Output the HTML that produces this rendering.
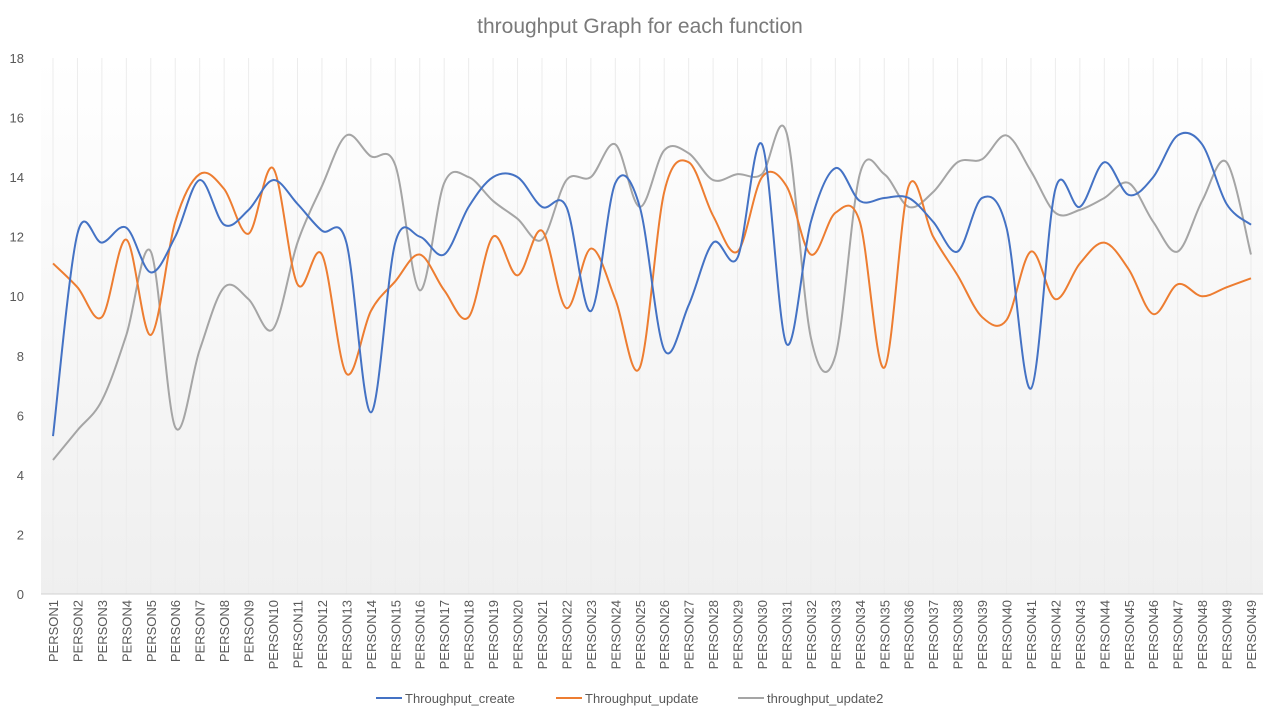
<!DOCTYPE html>
<html><head><meta charset="utf-8"><style>
body{margin:0;background:#fff;font-family:"Liberation Sans",sans-serif}
svg text{font-family:"Liberation Sans",sans-serif}
</style></head><body>
<svg id="c" width="1280" height="720">
<defs><linearGradient id="bg" x1="0" y1="0" x2="0" y2="1"><stop offset="0" stop-color="#ffffff"/><stop offset="1" stop-color="#efefef"/></linearGradient></defs>
<rect x="0" y="0" width="1280" height="720" fill="#fff"/>
<rect x="41" y="58" width="1222" height="536" fill="url(#bg)"/>
<text x="640" y="33" text-anchor="middle" font-size="21" fill="#7a7a7a">throughput Graph for each function</text>
<g id="grid"></g><g id="axes"></g><g id="series"></g>
<g>
<line x1="376" y1="698" x2="402" y2="698" stroke="#4472c4" stroke-width="2"/><text x="405" y="703" font-size="13" fill="#595959">Throughput_create</text>
<line x1="556" y1="698" x2="582" y2="698" stroke="#ed7d31" stroke-width="2"/><text x="585" y="703" font-size="13" fill="#595959">Throughput_update</text>
<line x1="738" y1="698" x2="764" y2="698" stroke="#a5a5a5" stroke-width="2"/><text x="767" y="703" font-size="13" fill="#595959">throughput_update2</text>
</g>
</svg>
<script>
const categories=[];for(let i=1;i<=49;i++)categories.push('PERSON'+i);categories.push('PERSON49');
const yTicks=[0,2,4,6,8,10,12,14,16,18];
const create=[5.3,12.1,11.8,12.3,10.8,12.0,13.9,12.4,12.9,13.9,13.1,12.2,11.8,6.1,11.8,12.0,11.4,13.0,14.0,14.0,13.0,13.0,9.5,13.8,13.0,8.2,9.7,11.8,11.3,15.1,8.4,12.5,14.3,13.2,13.3,13.3,12.5,11.5,13.3,12.3,6.9,13.6,13.0,14.5,13.4,14.0,15.4,15.1,13.1,12.4];
const update=[11.1,10.3,9.3,11.9,8.7,12.5,14.1,13.6,12.1,14.3,10.4,11.4,7.4,9.5,10.5,11.4,10.2,9.3,12.0,10.7,12.2,9.6,11.6,9.9,7.6,13.5,14.5,12.7,11.5,14.0,13.7,11.4,12.8,12.5,7.6,13.7,12.0,10.7,9.3,9.2,11.5,9.9,11.1,11.8,10.9,9.4,10.4,10.0,10.3,10.6];
const update2=[4.5,5.5,6.5,8.7,11.5,5.6,8.2,10.3,9.9,8.9,11.8,13.7,15.4,14.7,14.4,10.2,13.8,14.0,13.2,12.6,11.9,13.9,14.0,15.1,13.0,14.9,14.8,13.9,14.1,14.1,15.5,8.6,8.0,14.1,14.1,13.0,13.5,14.5,14.6,15.4,14.2,12.8,12.9,13.3,13.8,12.5,11.5,13.2,14.5,11.4];
const NS='http://www.w3.org/2000/svg';
const x=i=>53+i*(1251-53)/(categories.length-1);
const y=v=>594-v*(594-58)/18;
function mk(t,a,p){const e=document.createElementNS(NS,t);for(const k in a)e.setAttribute(k,a[k]);p.appendChild(e);return e;}
const grid=document.getElementById('grid'),axes=document.getElementById('axes'),ser=document.getElementById('series');
categories.forEach((c,i)=>{
 const l=mk('line',{x1:x(i),x2:x(i),y1:58,y2:594,stroke:'#ececec','stroke-width':1},grid);
 
 
 const t=mk('text',{x:0,y:0,'font-size':13,fill:'#595959','text-anchor':'end',transform:`translate(${x(i)+5},600) rotate(-90)`},axes);
 t.textContent=c;
 
 
});
yTicks.forEach(v=>{
 const t=mk('text',{x:24,y:y(v)+5,'font-size':13,fill:'#595959','text-anchor':'end'},axes);
 t.textContent=v;
 
 
});
const ax=mk('line',{x1:41,x2:1263,y1:594,y2:594,stroke:'#d0d0d0'},axes);


function path(d){const p=d.map((v,i)=>[x(i),y(v)]);let s=`M${p[0][0]},${p[0][1]}`;
 for(let i=0;i<p.length-1;i++){const p0=p[Math.max(0,i-1)],p1=p[i],p2=p[i+1],p3=p[Math.min(p.length-1,i+2)];
 const k=1/6;s+=` C${p1[0]+(p2[0]-p0[0])*k},${p1[1]+(p2[1]-p0[1])*k} ${p2[0]-(p3[0]-p1[0])*k},${p2[1]-(p3[1]-p1[1])*k} ${p2[0]},${p2[1]}`;}return s;}
[[update2,'#a5a5a5','line-update2'],[update,'#ed7d31','line-update'],[create,'#4472c4','line-create']].forEach(([d,c,n])=>{
 const e=mk('path',{d:path(d),fill:'none',stroke:c,'stroke-width':2},ser);
 
 
});
</script>
</body></html>
